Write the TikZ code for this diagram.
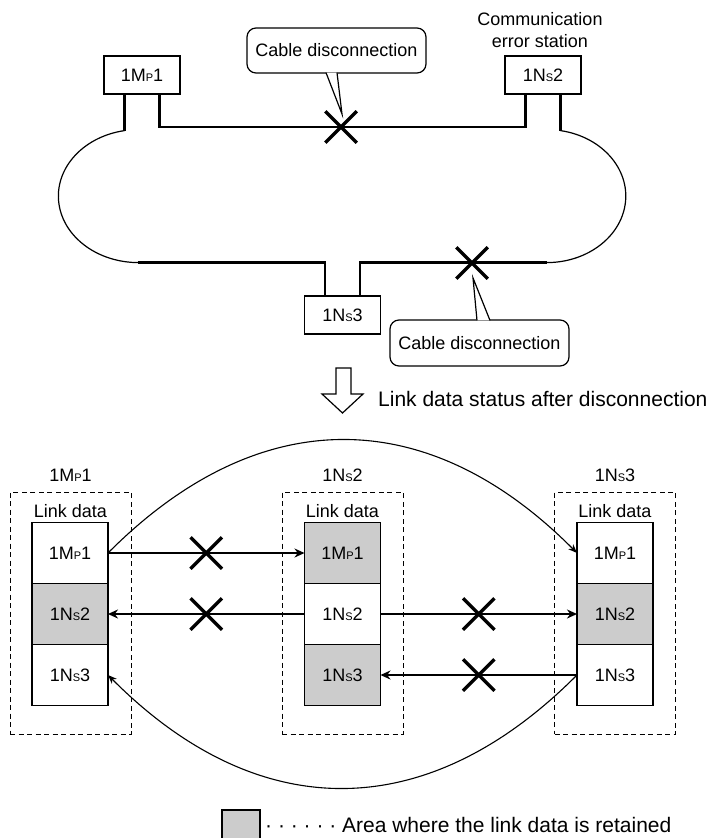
\documentclass[tikz,border=0pt]{standalone}
\usepackage{fontspec}
\setmainfont{Liberation Sans}
\usetikzlibrary{positioning,arrows.meta,shapes.misc}
\newcommand{\smltr}[1]{{\fontsize{11}{11}\selectfont #1}}

\begin{document}
\begin{tikzpicture}[x=1pt,y=1pt,
			every node/.style={font=\fontsize{18}{22}\selectfont},
			stn/.style={rectangle, draw, line width=1.2pt, minimum width=76pt, minimum height=38pt, inner sep=0pt, fill=white},
			wire/.style={line width=2.2pt},
			ring/.style={line width=1.2pt},
			balloon/.style={rectangle, draw, line width=1.2pt, rounded corners=9pt, minimum width=179pt, minimum height=45pt, inner sep=0pt, fill=white},
			cut/.style={cross out, draw, line width=3.5pt, minimum size=28pt, inner sep=0pt},
			stationbox/.style={rectangle, draw, line width=1pt, dash pattern=on 5pt off 3.5pt, minimum width=121pt, minimum height=242pt},
			cell/.style={rectangle, draw, line width=1.3pt, minimum width=76pt, minimum height=61pt, inner sep=0pt, outer sep=0pt, fill=white},
			kept/.style={cell, fill=gray!40},
			arrow/.style={-{Stealth[length=10pt,width=9pt]}, line width=1.8pt},
			arcarrow/.style={-{Stealth[length=9pt,width=7pt]}, line width=1.1pt}
			]
			
			\fill[white] (0,0) rectangle (714,-838);
			\useasboundingbox (0,0) rectangle (714,-838);
			
			% Stations on the loop
			\node[stn] (mp1) at (142,-75) {1M\smltr{P}1};
			\node[stn] (ns2) at (543,-75) {1N\smltr{S}2};
			\node[stn] (ns3) at (342.5,-315) {1N\smltr{S}3};
			\node[align=center] (errlbl) at (540,-30) {Communication\\error station};
			
			% Cable legs
			\coordinate (mp1a) at ([xshift=-17.5pt]mp1.south);
			\coordinate (mp1b) at ([xshift=17.5pt]mp1.south);
			\coordinate (ns2a) at ([xshift=-17.5pt]ns2.south);
			\coordinate (ns2b) at ([xshift=17.5pt]ns2.south);
			\coordinate (ns3a) at ([xshift=-17.5pt]ns3.north);
			\coordinate (ns3b) at ([xshift=17.5pt]ns3.north);
			\coordinate (topy) at (0,-127);
			
			% Loop cable
			\draw[wire] (mp1b) -- (mp1b |- topy) -- (ns2a |- topy) -- (ns2a);
			\draw[wire] (mp1a) -- ++(0,-36) coordinate (l1);
			\draw[ring] (l1) arc[start angle=100, end angle=270, x radius=80, y radius=66.5] coordinate (l2);
			\draw[wire] (l2) -- (ns3a |- l2) -- (ns3a);
			\draw[wire] (ns2b) -- ++(0,-36) coordinate (r1);
			\draw[ring] (r1) arc[start angle=80, end angle=-90, x radius=79, y radius=66.5] coordinate (r2);
			\draw[wire] (r2) -- (ns3b |- r2) -- (ns3b);
			
			% Callouts
			\node[balloon] (cd1) at (336.5,-50.5) {Cable disconnection};
			\coordinate (cd1tip) at (342,-114);
			\draw[line width=1.2pt, fill=white] ([xshift=-10.5pt,yshift=1pt]cd1.south) -- (cd1tip) -- ([xshift=0.5pt,yshift=1pt]cd1.south);
			\node[balloon, minimum height=46pt] (cd2) at (479.5,-343) {Cable disconnection};
			\coordinate (cd2tip) at (473,-278);
			\draw[line width=1.2pt, fill=white] ([xshift=-2.5pt,yshift=-1pt]cd2.north) -- (cd2tip) -- ([xshift=10.5pt,yshift=-1pt]cd2.north);
			
			% Breaks
			\node[cut] (cut1) at (341,-127) {};
			\node[cut] (cut2) at (472,-263) {};
			
			% Hollow arrow
			\draw[line width=1.2pt] (336,-368) -- (351,-368) -- (351,-394) -- (363,-394) -- (342.5,-413) -- (322,-394) -- (336,-394) -- cycle;
			\node[anchor=west, inner sep=0pt, font=\fontsize{21}{25}\selectfont] (status) at (378,-399) {Link data status after disconnection};
			
			% Station frames
			\node[stationbox] (fa) at (70.5,-613) {};
			\node[stationbox] (fb) at (342.5,-613) {};
			\node[stationbox] (fc) at (615,-613) {};
			\node (ta) at (70.5,-475) {1M\smltr{P}1};
			\node (tb) at (342.5,-475) {1N\smltr{S}2};
			\node (tc) at (615,-475) {1N\smltr{S}3};
			\node (la) at (70.5,-511) {Link data};
			\node (lb) at (342.5,-511) {Link data};
			\node (lc) at (615,-511) {Link data};
			
			% Link data cells
			\node[cell] (a1) at (70,-553) {1M\smltr{P}1};
			\node[kept, below=0pt of a1] (a2) {1N\smltr{S}2};
			\node[cell, below=0pt of a2] (a3) {1N\smltr{S}3};
			\node[kept] (b1) at (342.5,-553) {1M\smltr{P}1};
			\node[cell, below=0pt of b1] (b2) {1N\smltr{S}2};
			\node[kept, below=0pt of b2] (b3) {1N\smltr{S}3};
			\node[cell] (c1) at (615,-553) {1M\smltr{P}1};
			\node[kept, below=0pt of c1] (c2) {1N\smltr{S}2};
			\node[cell, below=0pt of c2] (c3) {1N\smltr{S}3};
			
			% Transfers
			\draw[arrow] (a1) -- node[cut] (x1) {} (b1);
			\draw[arrow] (b2) -- node[cut] (x2) {} (a2);
			\draw[arrow] (b2) -- node[cut] (x3) {} (c2);
			\draw[arrow] (c3) -- node[cut] (x4) {} (b3);
			\draw[arcarrow] (a1.east) .. controls +(150,150.7) and +(-150,150.7) .. (c1.west);
			\draw[arcarrow] (c3.west) .. controls +(-150,-150.7) and +(150,-150.7) .. (a3.east);
			
			% Legend
			\node[kept, minimum width=38pt, minimum height=38pt] (key) at (241,-829) {};
			\node[anchor=west, inner sep=0pt, font=\fontsize{21}{25}\selectfont] (keytxt) at (265,-825) {· · · · · · Area where the link data is retained};
			
		\end{tikzpicture}
\end{document}
